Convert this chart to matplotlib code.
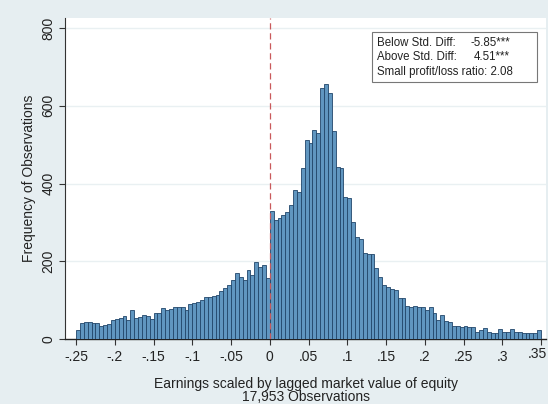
import numpy as np
import matplotlib
matplotlib.use("Agg")
import matplotlib.pyplot as plt
import matplotlib.transforms as mtransforms

plt.rcParams['font.family'] = ['Liberation Sans', 'DejaVu Sans']

# Histogram of scaled earnings, bins of width .005 from -.25 to .35
bin_start = -0.25
bin_width = 0.005

# Frequencies for bins below zero (-.25 .. 0)
loss_counts = [22, 42, 44, 45, 42, 41, 33, 36, 38, 48,
               52, 53, 60, 50, 74, 55, 56, 62, 58, 52,
               67, 68, 80, 75, 78, 83, 82, 83, 74, 90,
               92, 96, 100, 109, 108, 110, 113, 124, 131, 139,
               152, 169, 160, 152, 177, 164, 199, 186, 190, 157]

# Frequencies for bins at or above zero (0 .. .35)
profit_counts = [330, 307, 312, 318, 328, 345, 383, 378, 440, 512,
                 505, 537, 530, 645, 655, 632, 535, 442, 440, 365,
                 362, 300, 262, 258, 222, 220, 218, 182, 160, 139,
                 134, 128, 126, 105, 106, 84, 83, 84, 82, 83,
                 75, 82, 66, 50, 62, 46, 45, 34, 33, 32,
                 33, 31, 30, 19, 22, 28, 17, 16, 15, 25,
                 19, 18, 25, 18, 17, 16, 15, 16, 15, 22]

x_ticks = [-0.25, -0.2, -0.15, -0.1, -0.05, 0, 0.05, 0.1, 0.15, 0.2, 0.25, 0.3, 0.35]
x_tick_labels = ["-.25", "-.2", "-.15", "-.1", "-.05", "0", ".05", ".1", ".15", ".2", ".25", ".3", ".35"]
y_ticks = [0, 200, 400, 600, 800]

stats_labels = ["Below Std. Diff:", "Above Std. Diff:"]
stats_values = ["-5.85***", "4.51***"]
ratio_text = "Small profit/loss ratio: 2.08"
n_obs_text = "17,953 Observations"

counts = np.array(loss_counts + profit_counts, dtype=float)
lefts = bin_start + bin_width * np.arange(len(counts))

bg = "#E6EEF1"
ink = "#222222"
fig = plt.figure(figsize=(5.48, 4.04), dpi=100, facecolor=bg)
ax = fig.add_axes([65 / 548, 65 / 404, 481 / 548, 321 / 404])
ax.set_facecolor("white")

ax.bar(lefts, counts, width=bin_width, align="edge",
       color="#6096C0", edgecolor="#21466A", linewidth=0.6, zorder=3)

ax.set_xlim(-0.2642, 0.3564)
ax.set_ylim(0, 826)

# light horizontal grid
for yv in y_ticks[1:]:
    ax.axhline(yv, color="#E9F0F2", linewidth=1.0, zorder=1)

# threshold at zero
ax.axvline(0, color="#C9595B", linewidth=0.9, linestyle=(0, (5, 3)), zorder=4)

# the rightmost tick label sits at the canvas edge, so it is drawn
# separately and nudged a few pixels inward
ax.set_xticks(x_ticks)
ax.set_xticklabels(x_tick_labels[:-1] + [""], fontsize=10)
edge_trans = mtransforms.offset_copy(ax.get_xaxis_transform(), fig=fig,
                                     x=-4, y=-8, units="dots")
ax.text(x_ticks[-1], 0, x_tick_labels[-1], transform=edge_trans, fontsize=10,
        color=ink, ha="center", va="top", clip_on=False)

ax.set_yticks(y_ticks)
ax.set_yticklabels([str(v) for v in y_ticks], fontsize=10, rotation=90, va="center")

for side in ("top", "right"):
    ax.spines[side].set_visible(False)
ax.spines["left"].set_color("#333333")
ax.spines["bottom"].set_color(ink)
ax.spines["left"].set_linewidth(0.8)
ax.spines["bottom"].set_linewidth(1.0)
ax.tick_params(axis="x", direction="out", length=4, width=0.8, color="#333333",
               labelcolor=ink, pad=4)
ax.tick_params(axis="y", direction="out", length=4, width=0.8, color="#333333",
               labelcolor=ink, pad=3)

ax.set_ylabel("Frequency of Observations", fontsize=10, color=ink, labelpad=4)
ax.set_xlabel("Earnings scaled by lagged market value of equity\n" + n_obs_text,
              fontsize=10, color=ink, linespacing=0.85, labelpad=9.5)

# statistics box
box_x0, box_y0, box_w, box_h = 0.638, 0.801, 0.343, 0.155
ax.add_patch(plt.Rectangle((box_x0, box_y0), box_w, box_h, transform=ax.transAxes,
                           facecolor="white", edgecolor="#777777", linewidth=0.8, zorder=5))
line_y = [0.922, 0.877, 0.832]
for k, (lab, val) in enumerate(zip(stats_labels, stats_values)):
    ax.text(box_x0 + 0.011, line_y[k], lab, transform=ax.transAxes, fontsize=8.3,
            color=ink, va="center", zorder=6)
    ax.text(0.925, line_y[k], val, transform=ax.transAxes, fontsize=8.3,
            color=ink, va="center", ha="right", zorder=6)
ax.text(box_x0 + 0.011, line_y[2], ratio_text, transform=ax.transAxes,
        fontsize=8.3, color=ink, va="center", zorder=6)

fig.savefig("out.png", dpi=100, facecolor=bg)
